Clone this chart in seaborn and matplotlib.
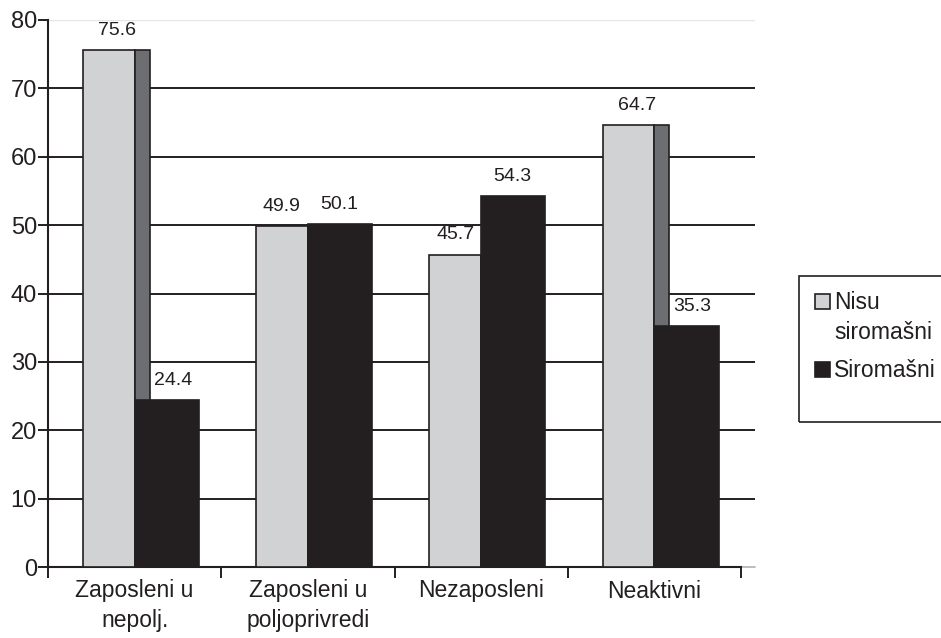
import matplotlib
matplotlib.use("Agg")
import matplotlib.pyplot as plt
import seaborn as sns
import pandas as pd
from matplotlib.patches import Rectangle

categories = ["Zaposleni u\nnepolj.", "Zaposleni u\npoljoprivredi", "Nezaposleni", "Neaktivni"]
nisu_siromasni = [75.6, 49.9, 45.7, 64.7]
siromasni = [24.4, 50.1, 54.3, 35.3]
series = ["Nisu siromašni", "Siromašni"]
yticks = [0, 10, 20, 30, 40, 50, 60, 70, 80]

LIGHT = "#d1d2d4"
SIDE = "#6d6e71"
DARK = "#231f20"

sns.set_theme(style="white")
plt.rcParams["font.family"] = ["Liberation Sans", "DejaVu Sans"]

df = pd.DataFrame({
    "cat": categories * 2,
    "val": nisu_siromasni + siromasni,
    "grp": [series[0]] * 4 + [series[1]] * 4,
})

fig = plt.figure(figsize=(9.41, 6.38), dpi=100)
ax = fig.add_axes([48 / 941, 1 - 567 / 638, (755 - 48) / 941, (567 - 20) / 638])

sns.barplot(data=df, x="cat", y="val", hue="grp", palette=[LIGHT, DARK],
            edgecolor=DARK, linewidth=1.2, ax=ax, legend=False, zorder=3,
            saturation=1)

# reshape bars to mimic the 3D layout
n = len(categories)
pats = ax.patches[:2 * n]
for i, p in enumerate(pats[:n]):
    p.set_x(i - 0.30)
    p.set_width(0.30)
    p.set_zorder(3)
for i, p in enumerate(pats[n:]):
    p.set_x(i)
    p.set_width(0.37)
    p.set_zorder(5)

# side faces of light bars
for i, v in enumerate(nisu_siromasni):
    ax.bar(i + 0.043, v, width=0.086, color=SIDE, edgecolor=DARK,
           linewidth=1.2, zorder=4)

# value labels
for i, (a, b) in enumerate(zip(nisu_siromasni, siromasni)):
    if a > b:
        xa, xb = i - 0.10, i + 0.22
    else:
        xa, xb = i - 0.15, i + 0.18
    ax.text(xa, a + 2.2, f"{a:.1f}", ha="center", va="baseline", fontsize=14, color=DARK)
    ax.text(xb, b + 2.2, f"{b:.1f}", ha="center", va="baseline", fontsize=14, color=DARK)

# grid
for y in yticks[1:-1]:
    ax.axhline(y, color=DARK, lw=1.4, zorder=1)
ax.axhline(80, color="#e6e6e6", lw=1.0, zorder=1)

ax.set_xlim(-0.5, 3.58)
ax.set_ylim(0, 80)
ax.set_yticks(yticks)
ax.set_yticklabels([str(t) for t in yticks], fontsize=17, color=DARK)
ax.tick_params(axis="y", direction="out", length=7, width=1.4, color=DARK, pad=1, left=True)

ax.set_xticks([-0.5, 0.5, 1.5, 2.5, 3.5])
ax.set_xticklabels([])
ax.tick_params(axis="x", which="major", direction="out", length=8, width=1.4, color=DARK, bottom=True)
ax.set_xticks(range(n), minor=True)
ax.set_xticklabels(categories, minor=True, fontsize=16.5, color=DARK, linespacing=1.35)
ax.tick_params(axis="x", which="minor", length=0, pad=9)

ax.set_xlabel("")
ax.set_ylabel("")
for s in ["top", "right"]:
    ax.spines[s].set_visible(False)
ax.spines["left"].set_color(DARK)
ax.spines["left"].set_linewidth(1.5)
ax.spines["bottom"].set_color(DARK)
ax.spines["bottom"].set_linewidth(1.5)
ax.spines["bottom"].set_bounds(-0.5, 3.5)
ax.axhline(0, xmin=(3.5 + 0.5) / 4.08, xmax=1, color="#b0b0b0", lw=1.2, clip_on=False)
ax.spines["left"].set_zorder(6)

# legend (frame, swatches, text)
W, H = 941, 638
def fr(x, y, w, h):
    return (x / W, 1 - (y + h) / H), w / W, h / H

xy, w, h = fr(799, 276, 150, 146)
fig.patches.append(Rectangle(xy, w, h, transform=fig.transFigure, fill=False,
                             edgecolor=DARK, lw=1.2))
xy, w, h = fr(815, 294, 15, 15)
fig.patches.append(Rectangle(xy, w, h, transform=fig.transFigure,
                             facecolor=LIGHT, edgecolor=DARK, lw=1.2))
xy, w, h = fr(815, 362, 15, 15)
fig.patches.append(Rectangle(xy, w, h, transform=fig.transFigure,
                             facecolor=DARK, edgecolor=DARK, lw=1.2))
first, second = series[0].split(" ", 1)
fig.text(834 / W, 1 - 309 / H, first, fontsize=16.5, color=DARK, va="baseline", ha="left")
fig.text(834 / W, 1 - 339 / H, second, fontsize=16.5, color=DARK, va="baseline", ha="left")
fig.text(834 / W, 1 - 377 / H, series[1], fontsize=16.5, color=DARK, va="baseline", ha="left")

fig.savefig("out.png", dpi=100)
